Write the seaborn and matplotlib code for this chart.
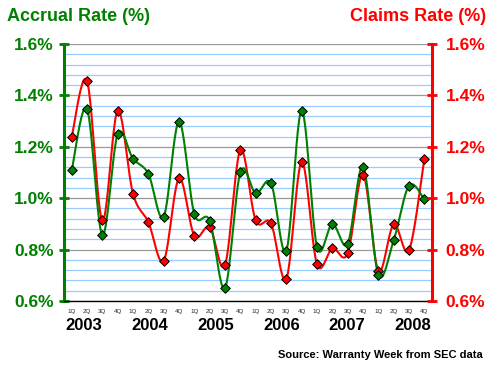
import numpy as np
import matplotlib
matplotlib.use("Agg")
import matplotlib.pyplot as plt
import matplotlib.transforms as mtransforms
import seaborn as sns

quarters = ["1Q", "2Q", "3Q", "4Q"] * 6
years = ["2003", "2004", "2005", "2006", "2007", "2008"]
accrual = [1.108, 1.348, 0.857, 1.249, 1.154, 1.095, 0.928, 1.298, 0.939, 0.913, 0.651, 1.101,
           1.019, 1.058, 0.796, 1.341, 0.811, 0.900, 0.823, 1.123, 0.702, 0.836, 1.049, 0.996]
claims = [1.238, 1.457, 0.914, 1.341, 1.018, 0.907, 0.756, 1.077, 0.854, 0.887, 0.740, 1.188,
          0.914, 0.902, 0.686, 1.141, 0.743, 0.805, 0.785, 1.092, 0.718, 0.898, 0.797, 1.153]

GREEN = "#008000"
RED = "#FF0000"


def smooth(x, y, n=24):
    # catmull-rom path through the points (like excel "smoothed line")
    x = np.asarray(x, float)
    y = np.asarray(y, float)
    px = np.concatenate([[x[0]], x, [x[-1]]])
    py = np.concatenate([[y[0]], y, [y[-1]]])
    xs, ys = [], []
    t = np.linspace(0, 1, n, endpoint=False)
    for i in range(1, len(px) - 2):
        for p, out in ((px, xs), (py, ys)):
            p0, p1, p2, p3 = p[i - 1], p[i], p[i + 1], p[i + 2]
            out.extend(0.5 * (2 * p1 + (-p0 + p2) * t + (2 * p0 - 5 * p1 + 4 * p2 - p3) * t ** 2
                              + (-p0 + 3 * p1 - 3 * p2 + p3) * t ** 3))
    xs.append(x[-1])
    ys.append(y[-1])
    return np.array(xs), np.array(ys)


sns.set_theme(style="white")
plt.rcParams["font.family"] = ["Liberation Sans", "DejaVu Sans"]

fig = plt.figure(figsize=(5, 3.65), dpi=100)
ax = fig.add_axes([0.128, 0.1753, 0.736, 0.7041])

xpos = np.arange(len(quarters))
for vals, col in ((claims, RED), (accrual, GREEN)):
    sx, sy = smooth(xpos, vals)
    sns.lineplot(x=sx, y=sy, ax=ax, color=col, lw=1.5, sort=False, estimator=None, zorder=3)
    sns.scatterplot(x=xpos, y=vals, ax=ax, color=col, marker="D", s=24,
                    edgecolor="black", linewidth=0.7, zorder=4)

ax.set_xlim(-0.5, len(quarters) - 0.5)
ax.set_ylim(0.6, 1.6)
ax.set_yticks(np.arange(0.6, 1.61, 0.2))
ax.set_yticks(np.arange(0.6, 1.6, 0.04), minor=True)
ax.set_yticklabels([f"{v:.1f}%" for v in np.arange(0.6, 1.61, 0.2)])
ax.grid(which="minor", axis="y", color="#99CCFF", lw=0.9)
ax.grid(which="major", axis="y", color="#999999", lw=0.9)
ax.set_axisbelow(True)

ax.set_xticks(xpos)
ax.set_xticklabels(quarters)
ax.set_xticks(np.arange(-0.5, len(quarters), 1), minor=True)
ax.tick_params(axis="x", which="major", length=0, pad=5.5, labelsize=4.5)
ax.tick_params(axis="x", which="minor", length=5, width=1, direction="inout", color="black")
ax.tick_params(axis="y", which="major", length=7.5, width=2, direction="inout", color=GREEN,
               labelcolor=GREEN, labelsize=12.5, pad=3.5)
ax.tick_params(axis="y", which="minor", length=0)
for lab in ax.get_yticklabels():
    lab.set_fontweight("bold")

ax.spines["top"].set_visible(False)
ax.spines["right"].set_visible(False)
ax.spines["left"].set_color(GREEN)
ax.spines["left"].set_linewidth(2.2)
ax.spines["bottom"].set_color("black")
ax.spines["bottom"].set_linewidth(1)

ax2 = ax.twinx()
ax2.set_ylim(0.6, 1.6)
ax2.set_yticks(np.arange(0.6, 1.61, 0.2))
ax2.set_yticklabels([f"{v:.1f}%" for v in np.arange(0.6, 1.61, 0.2)])
ax2.tick_params(axis="y", length=7.5, width=2, direction="inout", color=RED,
                labelcolor=RED, labelsize=12.5, pad=6)
for lab in ax2.get_yticklabels():
    lab.set_fontweight("bold")
for s in ("top", "left", "bottom"):
    ax2.spines[s].set_visible(False)
ax2.spines["right"].set_color(RED)
ax2.spines["right"].set_linewidth(2.2)
ax2.grid(False)

trans = mtransforms.blended_transform_factory(ax.transData, ax.transAxes)
for i, yr in enumerate(years):
    ax.text(0.77 + 4.3 * i, -0.113, yr, transform=trans, ha="center", va="baseline",
            fontsize=12, fontweight="bold", color="black")

fig.text(7 / 500, 1 - 21 / 365, "Accrual Rate (%)", ha="left", va="baseline",
         fontsize=13, fontweight="bold", color=GREEN)
fig.text(486 / 500, 1 - 21 / 365, "Claims Rate (%)", ha="right", va="baseline",
         fontsize=13, fontweight="bold", color=RED)
fig.text(483 / 500, 1 - 358 / 365, "Source: Warranty Week from SEC data", ha="right",
         va="baseline", fontsize=8, fontweight="bold", color="black")

fig.savefig("out.png", dpi=100)
